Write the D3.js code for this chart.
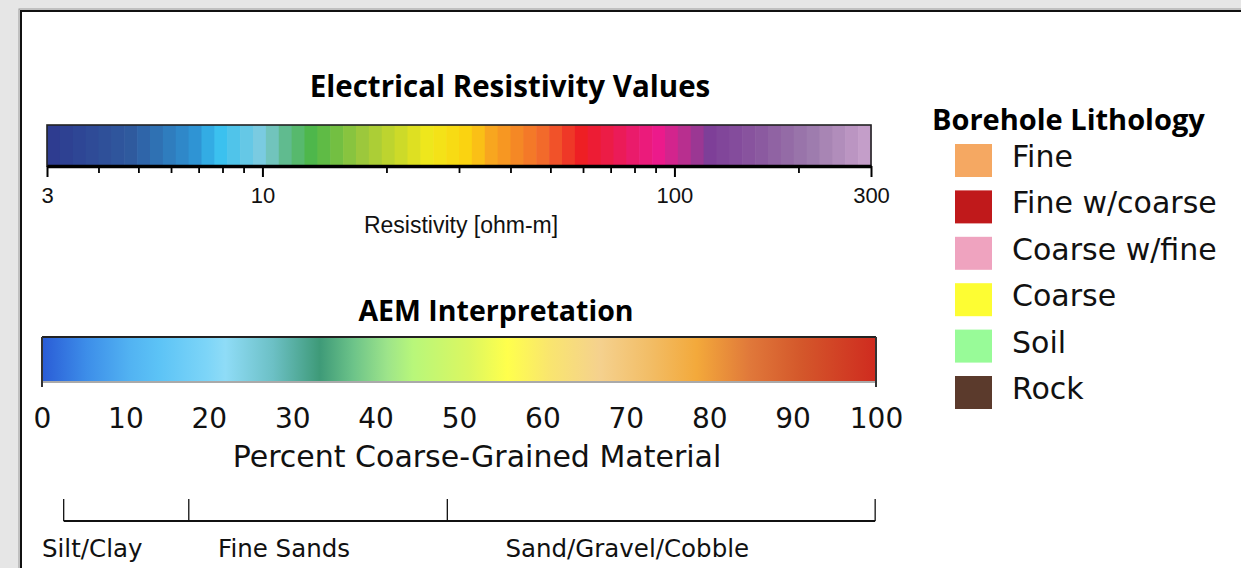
<!DOCTYPE html>
<html><head><meta charset="utf-8">
<script src="https://cdn.jsdelivr.net/npm/d3@7"></script>
<style>html,body{margin:0;padding:0;background:#e6e6e6;}svg{display:block;}</style>
</head><body>
<svg id="c" width="1241" height="568"></svg>
<script>
// ---------- data ----------
const resTitle = "Electrical Resistivity Values";
const resAxisTitle = "Resistivity [ohm-m]";
const resMajorTicks = [3, 10, 100, 300];
const resMinorTicks = [4, 5, 6, 7, 8, 9, 20, 30, 40, 50, 60, 70, 80, 90, 200];
const resStops = [3, 4.8, 6.9, 7.8, 10, 11.2, 13.2, 17.5, 25.5, 32, 36, 48, 60, 79, 92, 107, 122, 160, 213, 300];
const resColors = ["#2e3a8f","#2f5a9e","#2f95d5","#36c0f0","#7fcce0","#62bb96","#4db748","#9cc83c","#f2e81a","#fbd010","#f8a51f","#f26a2b","#ee1c24","#ea1b6a","#ec1a8c","#b3318f","#7e3f98","#8a589f","#9c7aac","#c9a2cc"];

const aemTitle = "AEM Interpretation";
const aemAxisTitle = "Percent Coarse-Grained Material";
const aemTicks = [0, 10, 20, 30, 40, 50, 60, 70, 80, 90, 100];
const aemStops = [0, 5.4, 10.6, 14, 19.8, 22, 27.7, 33.3, 37.3, 41.4, 44.5, 51.3, 55.8, 60.9, 66.9, 72.9, 78.5, 84.9, 90.9, 100];
const aemColors = ["#2a5cd6","#3d8ee9","#52b3f2","#5cc3f6","#7dd5f8","#8fdcf7","#6cc0c5","#3e9a78","#6cc389","#9de48a","#b8f77a","#dcf760","#ffff4c","#f9e56f","#f5d18e","#f2bd66","#f3a93b","#e0783a","#d4582b","#cf2b1f"];

const classNames = ["Silt/Clay", "Fine Sands", "Sand/Gravel/Cobble"];
const classBounds = [2.6, 17.6, 48.6, 99.9];

const lithoTitle = "Borehole Lithology";
const lithoNames = ["Fine", "Fine w/coarse", "Coarse w/fine", "Coarse", "Soil", "Rock"];
const lithoColors = ["#f5a862", "#c0191b", "#efa3bf", "#fdfd33", "#98fb98", "#5b3a2c"];

// ---------- drawing ----------
const svg = d3.select("#c");
const BOLD = "'Open Sans', 'DejaVu Sans', sans-serif";
const SANS = "'DejaVu Sans', 'Open Sans', sans-serif";
const ARIAL = "'Liberation Sans', Arial, sans-serif";

// background + panel
svg.append("rect").attr("width", 1241).attr("height", 568).attr("fill", "#e6e6e6");
svg.append("rect").attr("x", 19).attr("y", 9).attr("width", 1240).attr("height", 580)
  .attr("fill", "none").attr("stroke", "#9a9a9a").attr("stroke-width", 1);
svg.append("rect").attr("x", 21).attr("y", 11).attr("width", 1240).attr("height", 580)
  .attr("fill", "#ffffff").attr("stroke", "#111").attr("stroke-width", 2);

// ===== Resistivity colour bar =====
const xRes = d3.scaleLog().domain([3, 300]).range([47, 871]);
const resColor = d3.scaleLinear().domain(resStops.map(Math.log)).range(resColors)
  .interpolate(d3.interpolateRgb);
const nBands = 64;
const lo = Math.log(3), hi = Math.log(300);
const bands = d3.range(nBands).map(i => ({
  a: Math.exp(lo + (hi - lo) * i / nBands),
  b: Math.exp(lo + (hi - lo) * (i + 1) / nBands),
  m: lo + (hi - lo) * (i + 0.5) / nBands
}));
const barTop = 125, barH = 41;
svg.append("g").selectAll("rect").data(bands).join("rect")
  .attr("x", d => xRes(d.a)).attr("width", d => xRes(d.b) - xRes(d.a) + 0.6)
  .attr("y", barTop).attr("height", barH)
  .attr("fill", d => resColor(d.m));
svg.append("rect").attr("x", xRes(3)).attr("y", barTop).attr("width", xRes(300) - xRes(3)).attr("height", barH)
  .attr("fill", "none").attr("stroke", "#222").attr("stroke-width", 1.6);

svg.append("text").text(resTitle).attr("x", 510).attr("y", 97)
  .attr("text-anchor", "middle").attr("font-family", BOLD).attr("font-weight", 700)
  .attr("font-size", 29.5).attr("fill", "#000");

const minorAxis = svg.append("g").attr("transform", `translate(0,${barTop + barH})`)
  .call(d3.axisBottom(xRes).tickValues(resMinorTicks).tickSize(7).tickFormat(""));
minorAxis.select(".domain").remove();
minorAxis.selectAll("line").attr("stroke", "#000").attr("stroke-width", 1.8);

const majorAxis = svg.append("g").attr("transform", `translate(0,${barTop + barH})`)
  .call(d3.axisBottom(xRes).tickValues(resMajorTicks).tickSize(11).tickSizeOuter(0).tickFormat(d3.format("d")));
majorAxis.select(".domain").attr("stroke", "#000").attr("stroke-width", 3.5);
majorAxis.selectAll("line").attr("stroke", "#000").attr("stroke-width", 2);
majorAxis.selectAll("text").attr("y", 37).attr("dy", 0)
  .attr("font-family", ARIAL).attr("font-size", 22).attr("fill", "#111");

svg.append("text").text(resAxisTitle).attr("x", 461).attr("y", 233)
  .attr("text-anchor", "middle").attr("font-family", ARIAL).attr("font-size", 23).attr("fill", "#111");

// ===== AEM colour bar =====
const xPct = d3.scaleLinear().domain([0, 100]).range([42, 876]);
const defs = svg.append("defs");
const grad = defs.append("linearGradient").attr("id", "aem").attr("x1", "0%").attr("x2", "100%");
grad.selectAll("stop").data(aemStops).join("stop")
  .attr("offset", d => d + "%").attr("stop-color", (d, i) => aemColors[i]);

const aTop = 337, aH = 45;
svg.append("rect").attr("x", xPct(0)).attr("y", aTop).attr("width", xPct(100) - xPct(0)).attr("height", aH)
  .attr("fill", "url(#aem)");
svg.append("line").attr("x1", xPct(0)).attr("x2", xPct(100)).attr("y1", aTop).attr("y2", aTop)
  .attr("stroke", "#222").attr("stroke-width", 2);
svg.append("line").attr("x1", xPct(0)).attr("x2", xPct(100)).attr("y1", aTop + aH).attr("y2", aTop + aH)
  .attr("stroke", "#aaa").attr("stroke-width", 2);
svg.append("g").selectAll("line").data([0, 100]).join("line")
  .attr("x1", d => xPct(d)).attr("x2", d => xPct(d)).attr("y1", aTop).attr("y2", aTop + aH + 5)
  .attr("stroke", "#333").attr("stroke-width", 2);

svg.append("text").text(aemTitle).attr("x", 496).attr("y", 321)
  .attr("text-anchor", "middle").attr("font-family", BOLD).attr("font-weight", 700)
  .attr("font-size", 28.5).attr("fill", "#000");

const aemAxis = svg.append("g").attr("transform", `translate(0,${aTop + aH})`)
  .call(d3.axisBottom(xPct).tickValues(aemTicks).tickSize(0).tickFormat(d3.format("d")));
aemAxis.select(".domain").remove();
aemAxis.selectAll("text").attr("y", 46).attr("dy", 0)
  .attr("font-family", SANS).attr("font-size", 28).attr("fill", "#111");

svg.append("text").text(aemAxisTitle).attr("x", 477).attr("y", 467)
  .attr("text-anchor", "middle").attr("font-family", SANS).attr("font-size", 30).attr("fill", "#111");

// ===== class brackets =====
const bY = 521, bTop = 499;
svg.append("line").attr("x1", xPct(classBounds[0])).attr("x2", xPct(classBounds[classBounds.length - 1]))
  .attr("y1", bY).attr("y2", bY).attr("stroke", "#111").attr("stroke-width", 1.8);
svg.append("g").selectAll("line").data(classBounds).join("line")
  .attr("x1", d => xPct(d)).attr("x2", d => xPct(d)).attr("y1", bTop).attr("y2", bY)
  .attr("stroke", "#111").attr("stroke-width", 1.3);
svg.append("g").selectAll("text").data(classNames).join("text")
  .text(d => d)
  .attr("x", (d, i) => (xPct(classBounds[i]) + xPct(classBounds[i + 1])) / 2 - 34)
  .attr("y", 557).attr("text-anchor", "middle")
  .attr("font-family", SANS).attr("font-size", 24.5).attr("fill", "#111");

// ===== Legend =====
svg.append("text").text(lithoTitle).attr("x", 932).attr("y", 130)
  .attr("font-family", BOLD).attr("font-weight", 700).attr("font-size", 29).attr("fill", "#000");
const yLeg = d3.scalePoint().domain(lithoNames).range([144, 376]);
const leg = svg.append("g").selectAll("g").data(lithoNames).join("g")
  .attr("transform", d => `translate(955,${yLeg(d)})`);
leg.append("rect").attr("width", 37).attr("height", 33)
  .attr("fill", (d, i) => lithoColors[i]);
leg.append("text").text(d => d).attr("x", 57).attr("y", 23)
  .attr("font-family", SANS).attr("font-size", 30).attr("fill", "#111");
</script>
</body></html>
